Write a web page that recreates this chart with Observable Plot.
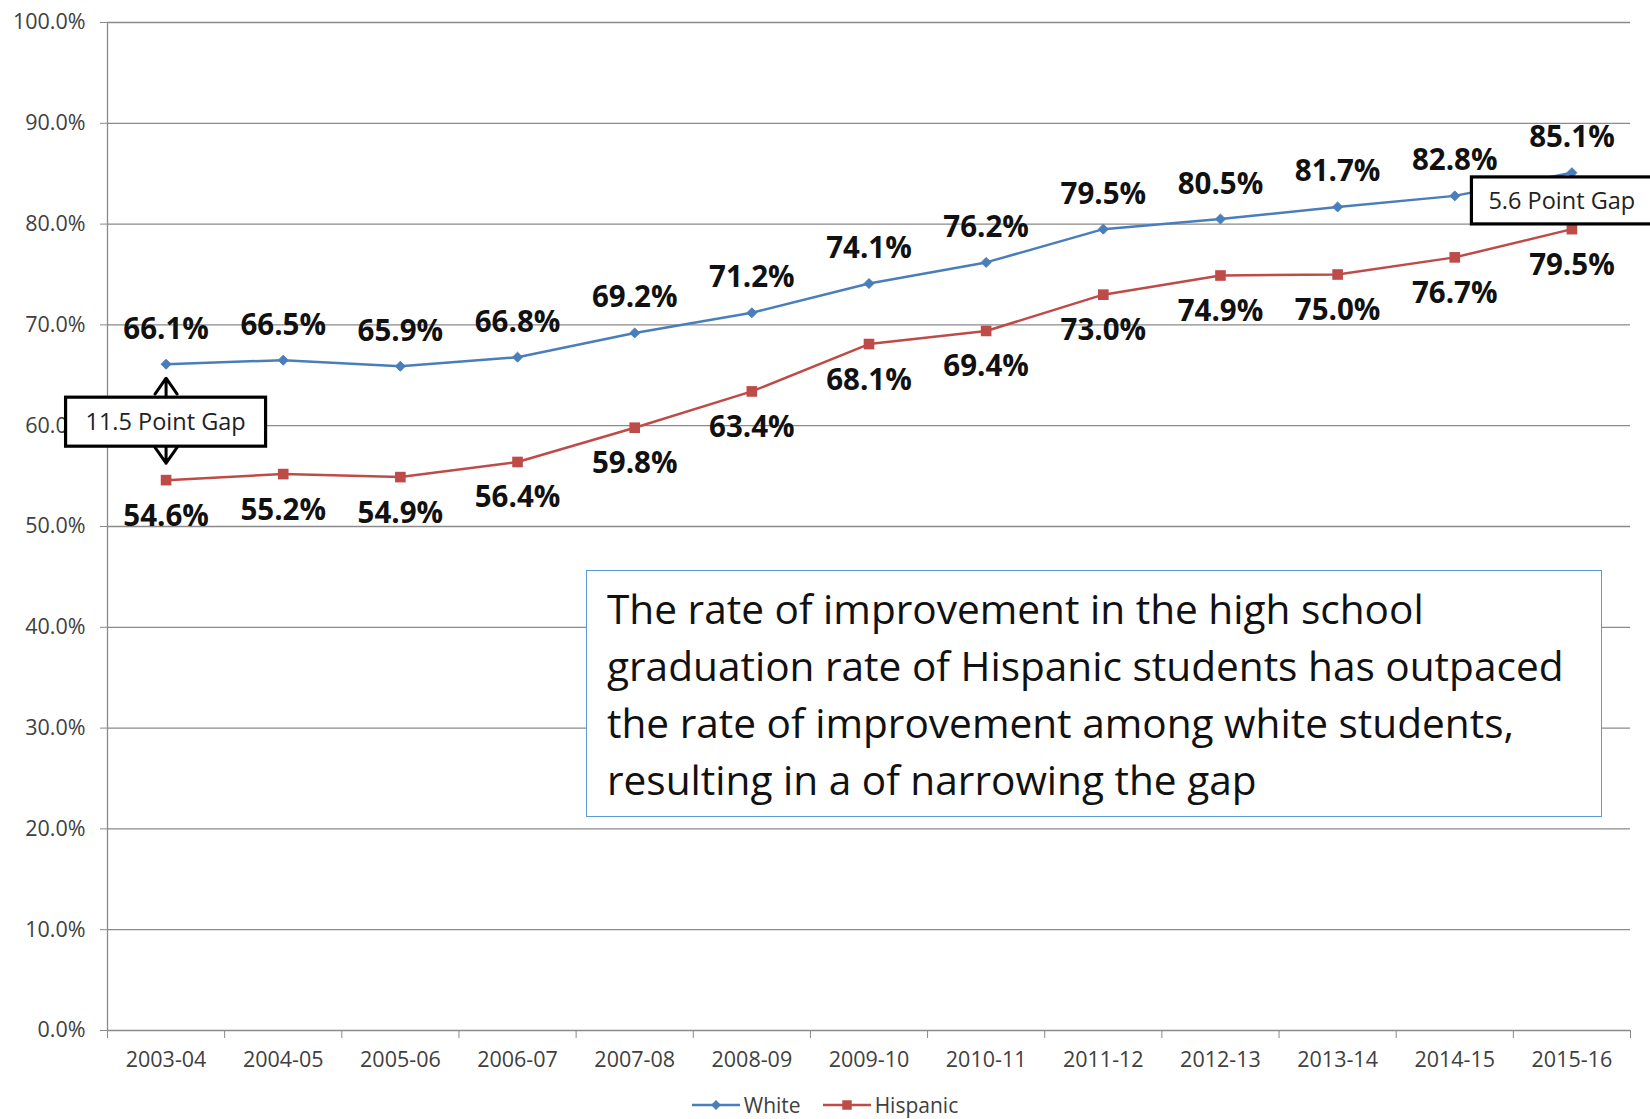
<!DOCTYPE html>
<html><head><meta charset="utf-8">
<script src="https://cdn.jsdelivr.net/npm/d3@7"></script>
<script src="https://cdn.jsdelivr.net/npm/@observablehq/plot@0.6"></script>
<style>
body{margin:0;background:#fff;font-family:"Open Sans",sans-serif;}
#wrap{position:relative;width:1650px;height:1119px;overflow:hidden;background:#fff;}
#note{position:absolute;left:586px;top:570px;width:1016px;height:247px;border:1.5px solid #5b9bd5;background:#fff;box-sizing:border-box;padding:9px 0 0 20px;font-size:40.6px;line-height:57px;color:#111;white-space:nowrap;}
#legend{display:flex;justify-content:center;align-items:center;gap:22px;height:24px;line-height:24px;margin-top:13px;font-size:21px;color:#404040;}
#legend .item{display:flex;align-items:center;gap:4px;}
</style></head><body>
<div id="wrap"></div>
<script>
const years = ["2003-04","2004-05","2005-06","2006-07","2007-08","2008-09","2009-10","2010-11","2011-12","2012-13","2013-14","2014-15","2015-16"];
const white = [66.1,66.5,65.9,66.8,69.2,71.2,74.1,76.2,79.5,80.5,81.7,82.8,85.1];
const hispanic = [54.6,55.2,54.9,56.4,59.8,63.4,68.1,69.4,73.0,74.9,75.0,76.7,79.5];
const yTicks = [0,10,20,30,40,50,60,70,80,90,100];
const seriesNames = ["White","Hispanic"];
const seriesColors = ["#4a7ebb","#be4b48"];
const seriesSymbols = ["diamond2","square"];
const gapLabels = ["11.5 Point Gap","5.6 Point Gap"];
const noteLines = [
  "The rate of improvement in the high school",
  "graduation rate of Hispanic students has outpaced",
  "the rate of improvement among white students,",
  "resulting in a of narrowing the gap"
];

const W = years.map((year,i)=>({i, year, v: white[i], s: "White"}));
const H = years.map((year,i)=>({i, year, v: hispanic[i], s: "Hispanic"}));
const rows = W.concat(H);
const first = 0, last = years.length - 1;
const gaps = [
  {i: first, top: white[first], bot: hispanic[first], mid: (white[first]+hispanic[first])/2},
  {i: last, top: white[last], bot: hispanic[last], mid: (white[last]+hispanic[last])/2}
];
const boundaries = d3.range(-0.5, years.length, 1);

const chart = Plot.plot({
  width: 1650, height: 1080,
  marginTop: 22, marginBottom: 50, marginLeft: 107, marginRight: 20,
  style: {fontFamily: "Open Sans", fontSize: "21.5px", color: "#404040", background: "white", overflow: "visible"},
  x: {type: "linear", domain: [-0.5, years.length - 0.5]},
  y: {domain: [0, 100]},
  color: {domain: seriesNames, range: seriesColors},
  marks: [
    Plot.gridY(yTicks, {stroke: "#8a8a8a", strokeOpacity: 1, strokeWidth: 1.3}),
    Plot.axisY(yTicks, {tickSize: 7, tickPadding: 15, tickFormat: d => d.toFixed(1) + "%", stroke: "#8a8a8a", label: null, fill: "#404040"}),
    Plot.ruleX([-0.5], {stroke: "#8a8a8a", strokeWidth: 1.3, y1: 0, y2: 100}),
    Plot.axisX(boundaries, {tickSize: 8, tickFormat: () => "", stroke: "#8a8a8a", label: null}),
    Plot.axisX(d3.range(years.length), {tickSize: 0, tickPadding: 21, tickFormat: i => years[i], label: null, fill: "#404040"}),
    Plot.line(rows, {x: "i", y: "v", stroke: "s", z: "s", strokeWidth: 2.5}),
    Plot.dot(W, {x: "i", y: "v", symbol: seriesSymbols[0], fill: seriesColors[0], stroke: seriesColors[0], strokeWidth: 1, r: 4.5}),
    Plot.dot(H, {x: "i", y: "v", symbol: seriesSymbols[1], fill: seriesColors[1], r: 6}),
    Plot.text(W, {x: "i", y: "v", text: d => d.v.toFixed(1) + "%", dy: -35, fontWeight: "bold", fontSize: 29.5, fill: "#111"}),
    Plot.text(H, {x: "i", y: "v", text: d => d.v.toFixed(1) + "%", dy: 36, fontWeight: "bold", fontSize: 29.5, fill: "#111"}),
    Plot.arrow(gaps.slice(0,1), {x1: "i", x2: "i", y1: "mid", y2: "top", insetEnd: 14, stroke: "#000", strokeWidth: 3, headLength: 14, headAngle: 70}),
    Plot.arrow(gaps.slice(0,1), {x1: "i", x2: "i", y1: "mid", y2: "bot", insetEnd: 17, stroke: "#000", strokeWidth: 3, headLength: 14, headAngle: 70})
  ]
});

const wrap = document.getElementById("wrap");
wrap.appendChild(chart);

// Gap annotation boxes, positioned from the chart's scales
const sx = chart.scale("x"), sy = chart.scale("y");
const svg = d3.select(chart);
const boxes = [
  {cx: sx.apply(gaps[0].i), cy: sy.apply(gaps[0].mid), w: 200, h: 49, left: -100, text: gapLabels[0], anchor: "middle", tx: 0},
  {cx: sx.apply(gaps[1].i), cy: sy.apply(gaps[1].mid), w: 200, h: 47, left: -100, text: gapLabels[1], anchor: "start", tx: -83}
];
for (const b of boxes) {
  const g = svg.append("g");
  g.append("rect").attr("x", b.cx + b.left).attr("y", b.cy - b.h/2).attr("width", b.w).attr("height", b.h)
    .attr("fill", "#fff").attr("stroke", "#000").attr("stroke-width", 3.2);
  g.append("text").attr("x", b.cx + b.tx).attr("y", b.cy).attr("dy", "0.35em")
    .attr("text-anchor", b.anchor).attr("font-size", 23.5).attr("fill", "#222").attr("font-family", "Open Sans")
    .text(b.text);
}

// Text note box
const note = document.createElement("div");
note.id = "note";
note.innerHTML = noteLines.map(l => `<div>${l}</div>`).join("");
wrap.appendChild(note);

// Legend
const legend = document.createElement("div");
legend.id = "legend";
seriesNames.forEach((name, k) => {
  const item = document.createElement("div");
  item.className = "item";
  const sym = d3.create("svg").attr("width", 48).attr("height", 14);
  sym.append("line").attr("x1", 0).attr("x2", 48).attr("y1", 7).attr("y2", 7).attr("stroke", seriesColors[k]).attr("stroke-width", 2.5);
  const shape = d3.symbol(k === 0 ? d3.symbolDiamond2 : d3.symbolSquare, k === 0 ? 64 : 90)();
  sym.append("path").attr("d", shape).attr("transform", "translate(24,7)").attr("fill", seriesColors[k]);
  item.appendChild(sym.node());
  const t = document.createElement("span");
  t.textContent = name;
  item.appendChild(t);
  legend.appendChild(item);
});
wrap.appendChild(legend);
</script>
</body></html>
